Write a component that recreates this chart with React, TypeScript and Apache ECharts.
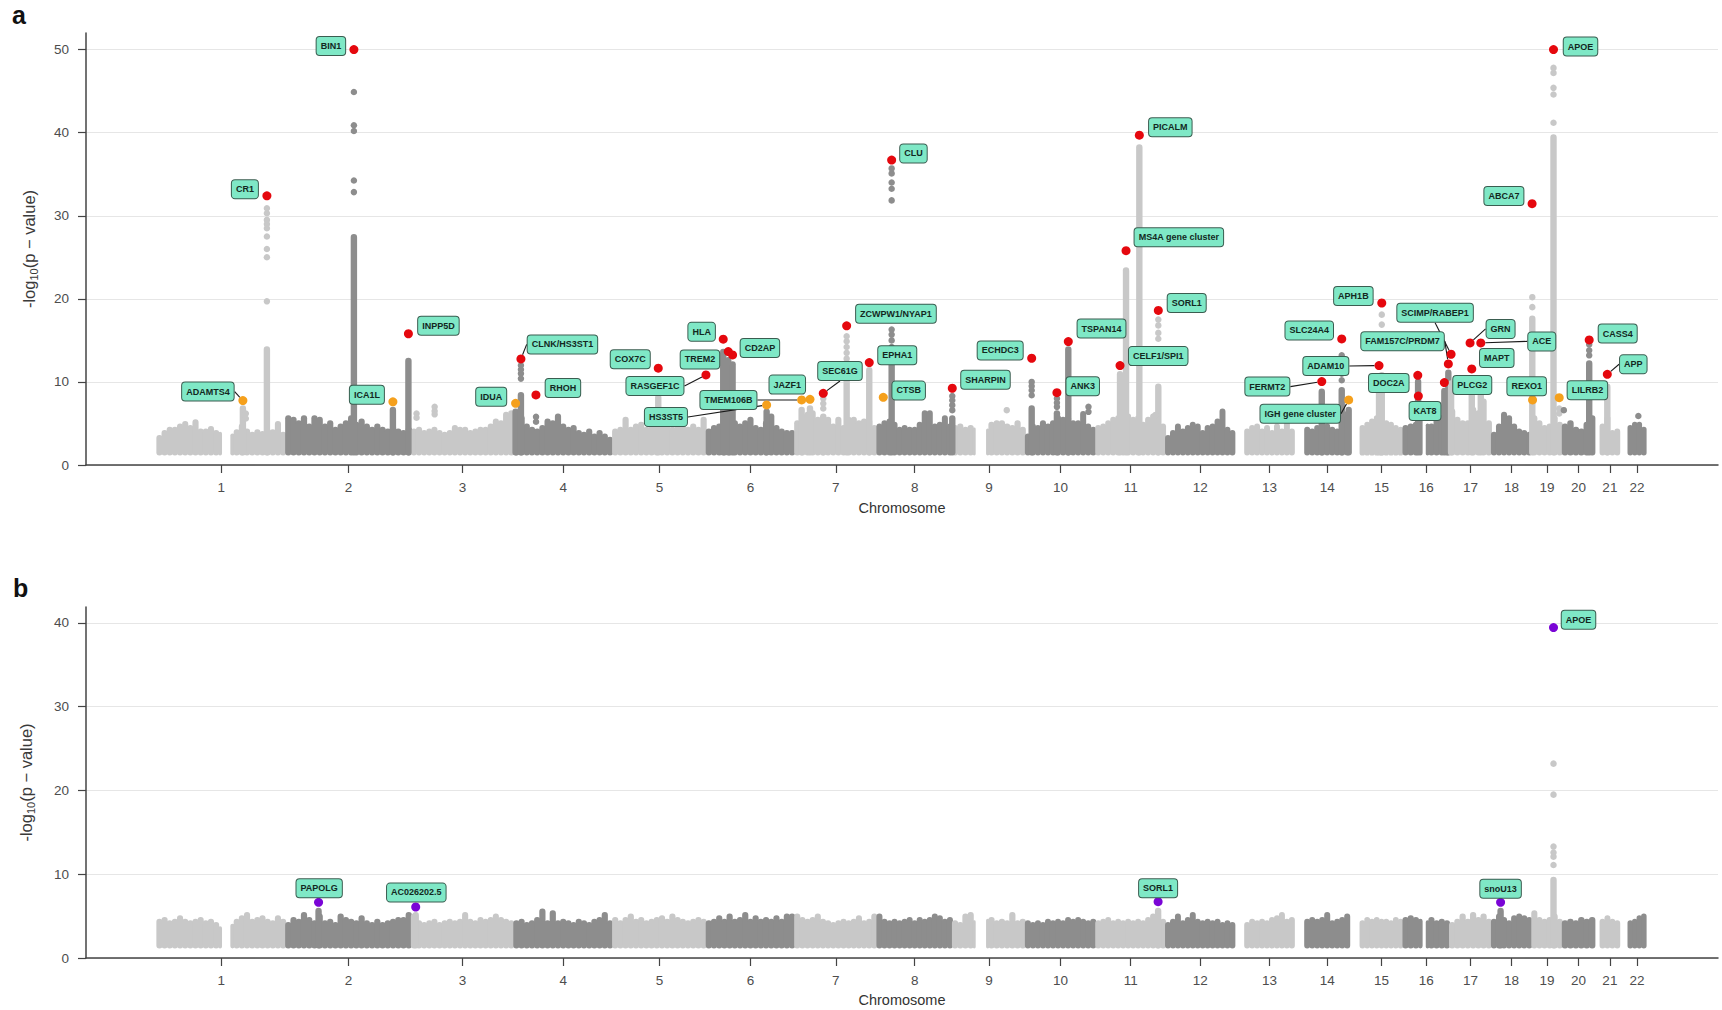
import React, { useEffect, useRef } from "react";
import * as echarts from "echarts";

// ---------------- data ----------------
const TICK_LABELS = ["1","2","3","4","5","6","7","8","9","10","11","12","13","14","15","16","17","18","19","20","21","22"];
const Y_TICKS_A = [0, 10, 20, 30, 40, 50];
const Y_TICKS_B = [0, 10, 20, 30, 40];
// chromosome lengths (Mb), first plotted position, and unplotted gaps
const CHR_LEN = [249,243,198,191,181,171,159,146,141,136,135,134,115,107,103,90,81,78,59,63,48,51];
const CHR_DATA_START = [0,0,0,0,0,0,0,0,0,0,0,0,19,20,20,0,0,0,0,0,10,16];
const CHR_GAPS: [number, number, number][] = [[1,125,143],[9,44,66],[16,37,45]];

// upper envelope of the dense background cloud, evenly spaced along each chromosome (panel a)
const PROFILE_A: number[][] = [
  [3.6,4.2,4.6,4.6,5.0,5.3,4.8,5.5,4.4,4.4,4.7,4.2,4.0,4.0,3.8,4.3,5.0,4.4,4.0,4.3,4.1,4.4,4.3,5.3,4.0],
  [6.0,5.8,5.4,6.0,5.0,6.0,5.8,5.0,5.4,4.6,5.0,5.4,6.0,5.2,5.6,5.0,4.6,5.0,4.6,4.4,4.8,4.4,4.2,4.6],
  [4.4,4.6,4.2,4.4,4.6,4.2,4.0,4.2,4.8,4.6,4.6,4.2,4.4,4.6,4.6,5.0,5.6,5.4,6.4,6.6],
  [5.5,6.0,5.0,4.6,4.4,4.8,5.6,5.4,6.2,5.0,4.6,4.8,4.2,4.0,4.4,3.8,4.2,3.8,3.4],
  [4.4,4.6,5.8,4.6,5.0,5.2,4.6,5.4,5.0,4.8,4.8,4.6,4.8,4.8,4.6,5.0,4.6,5.8],
  [4.4,4.8,5.0,6.0,6.0,5.4,5.0,5.4,5.8,4.8,4.6,5.4,6.2,4.8,4.4,4.2,4.2],
  [5.4,6.2,6.4,6.6,5.8,6.0,5.8,5.0,5.8,4.8,5.8,5.8,5.4,5.6,5.6,4.8],
  [5.0,5.4,5.6,5.2,4.6,4.8,4.6,4.6,5.2,6.6,6.6,5.0,5.2,6.0,5.0],
  [4.8,5.0,4.6,4.8,4.5,4.5,4.4,5.2,5.4,5.4,5.0,4.8,5.4,4.6],
  [3.8,5.0,4.8,5.4,5.0,5.4,6.0,5.8,6.0,5.4,5.4,6.5,5.0,4.6],
  [4.8,5.0,5.4,5.8,6.0,6.0,6.2,5.8,6.0,5.2,5.8,6.2,5.4,5.0],
  [3.6,4.2,5.0,4.4,4.8,5.2,5.0,4.2,4.8,5.0,5.6,6.8,4.6,4.2],
  [4.4,4.8,5.0,4.4,4.8,4.2,5.0,4.4,5.4,4.4],
  [4.6,4.4,4.8,5.6,5.0,4.6,4.4,6.0,6.5],
  [4.8,5.2,5.6,6.0,6.6,5.4,5.2,4.8,4.6],
  [4.8,5.0,5.2,5.6,5.0,5.0,5.8,6.0,6.4],
  [6.8,5.8,5.4,5.4,7.0,6.6,8.0,5.4],
  [4.0,5.0,6.4,6.0,5.0,4.4,4.2,4.0],
  [6.0,5.4,4.8,5.0,6.0,5.2],
  [5.0,5.4,4.6,4.4,5.2,6.0],
  [5.0,6.0,4.2,4.4],
  [4.8,5.2,5.2,4.6],
];

// panel b background envelope
const PROFILE_B: number[][] = [
  [4.7,4.9,4.5,4.7,5.1,4.7,4.5,4.7,4.9,4.5,4.7,4.3,3.8,4.0,4.1,4.7,5.1,5.5,4.7,4.9,5.1,4.7,4.5,5.1,4.7],
  [4.3,4.9,4.7,5.5,4.9,4.5,5.3,4.5,4.7,4.3,5.3,4.9,4.7,4.5,5.1,4.5,4.3,4.7,4.3,4.5,4.7,4.9,4.9,5.5],
  [5.3,4.5,4.3,4.5,4.7,4.3,4.5,4.7,4.5,4.7,5.5,4.7,4.5,4.9,4.7,4.9,5.3,4.9,4.7,4.5],
  [4.5,4.7,4.3,4.5,4.9,5.9,4.5,5.7,4.5,4.7,4.5,4.3,4.7,4.5,4.3,4.7,4.9,5.5,4.5],
  [4.9,4.5,4.9,5.3,4.7,4.9,4.5,4.7,4.9,5.1,4.7,5.3,4.9,4.7,4.5,4.7,4.9,4.7],
  [4.5,4.7,5.1,4.7,5.3,4.7,4.9,5.5,4.7,5.1,4.7,4.9,4.7,5.1,4.7,5.3,5.3],
  [5.3,4.9,4.7,4.9,5.3,4.7,4.5,4.3,4.5,4.7,4.5,4.7,5.1,4.5,4.7,5.3],
  [5.3,4.7,4.5,4.7,4.5,4.7,4.9,4.5,4.9,4.7,4.9,5.3,5.1,4.7,4.9],
  [4.5,4.3,5.3,5.5,4.5,4.5,4.7,4.9,4.5,4.7,4.5,5.5,4.5,4.7],
  [4.5,4.3,4.5,4.3,4.7,4.5,4.7,4.5,4.9,4.7,4.9,4.7,4.5,4.7],
  [4.5,4.7,4.9,4.5,4.7,4.5,4.7,4.5,4.7,4.5,4.9,5.3,5.5,4.7],
  [4.3,4.7,5.3,4.5,4.9,5.5,4.7,4.5,4.7,4.5,4.7,4.3,4.5,4.3],
  [4.3,4.7,4.5,4.7,4.5,4.9,5.1,5.5,4.7,4.9],
  [4.7,4.9,4.7,4.9,5.5,4.5,4.7,4.9,5.3],
  [4.5,4.9,4.7,4.9,4.7,4.7,4.5,4.9,4.7],
  [4.9,5.1,4.9,4.7,4.5,4.9,4.5,4.7,4.5],
  [4.3,4.7,5.3,4.7,5.5,4.9,5.3,4.7],
  [4.7,5.3,4.9,4.5,5.1,5.3,5.1,4.9],
  [5.7,4.9,4.7,4.9,5.3,4.7],
  [4.5,4.7,4.5,4.9,4.7,4.9],
  [4.7,5.1,4.7,4.5],
  [4.5,4.7,5.1,5.3],
];

// dense stacks of SNPs under the signals: [chromosome, position Mb, top -log10 p]
const COLUMNS_A: [number, number, number][] = [
  [1,166.3,7.2],[1,212.7,14.3],[2,131.9,27.8],[2,207.3,7.0],[2,237.3,12.9],[4,3.5,6.8],[4,13.8,8.8],
  [5,88.3,8.5],[6,32.9,14.0],[6,42.6,13.0],[6,51.0,12.5],[6,116.8,6.8],[7,13.5,7.0],[7,29.6,7.2],
  [7,55.3,6.2],[7,100.5,11.3],[7,144.2,11.8],[8,28.5,13.4],[8,145.7,6.0],[10,12.2,7.2],[10,61.0,6.6],
  [10,83.0,14.3],[11,47.0,11.3],[11,58.6,23.8],[11,84.3,38.6],[11,121.0,9.8],[14,53.0,9.2],[14,91.6,9.4],
  [14,105.0,7.0],[15,56.7,9.5],[15,62.0,11.2],[16,29.2,10.4],[16,80.0,9.3],[16,87.7,11.5],[17,3.0,10.2],
  [17,43.0,10.8],[17,60.4,9.0],[19,1.0,18.0],[19,42.0,39.8],[20,52.0,12.6],[21,24.0,9.8],
];
// isolated SNPs above the cloud: [chromosome, position Mb, -log10 p]
const DOTS_A: [number, number, number][] = [
  [1,212.7,19.7],[1,212.7,25.0],[1,212.7,26.0],[1,212.7,27.5],[1,212.7,28.5],[1,212.7,29.0],[1,212.7,29.5],[1,212.7,30.3],[1,212.7,30.9],
  [2,131.9,32.85],[2,131.9,34.25],[2,131.9,40.2],[2,131.9,40.9],[2,131.9,44.9],
  [4,13.8,10.4],[4,13.8,11.0],[4,13.8,11.5],[4,13.8,12.0],
  [7,100.5,12.8],[7,100.5,13.5],[7,100.5,14.2],[7,100.5,14.9],[7,100.5,15.5],
  [7,55.3,6.8],[7,55.3,7.4],[7,55.3,8.0],
  [8,28.5,14.2],[8,28.5,15.0],[8,28.5,15.7],[8,28.5,16.3],
  [8,28.5,31.85],[8,28.5,33.25],[8,28.5,34.0],[8,28.5,35.1],[8,28.5,35.7],
  [8,145.7,6.6],[8,145.7,7.2],[8,145.7,7.8],[8,145.7,8.3],
  [10,12.2,8.4],[10,12.2,9.0],[10,12.2,9.5],[10,12.2,10.0],
  [10,61.0,7.0],[10,61.0,7.5],[10,61.0,8.0],
  [11,121.0,15.2],[11,121.0,15.9],[11,121.0,16.8],[11,121.0,17.5],
  [14,91.6,10.2],[14,91.6,11.0],[14,91.6,11.8],[14,91.6,12.6],[14,91.6,13.2],
  [15,62.0,16.9],[15,62.0,18.1],
  [19,1.0,19.0],[19,1.0,20.2],
  [19,42.0,41.2],[19,42.0,44.6],[19,42.0,45.4],[19,42.0,47.2],[19,42.0,47.8],
  [19,53.0,6.2],[19,53.0,6.8],
  [20,52.0,13.2],[20,52.0,13.8],[20,52.0,14.5],
  [1,172,6.2],[1,172,5.6],[3,10,6.2],[3,10,5.7],[3,45,7.0],[3,45,6.5],[3,45,6.1],[4,43,5.8],[4,43,5.2],
  [9,105,6.6],[10,122,7.0],[10,122,6.4],[11,115,6.0],[20,3,6.6],[22,36,5.9],
];
// lead variants panel a: [gene, chromosome, position Mb, -log10 p, class]
const LEADS_A: [string, number, number, number, string][] = [
  ["CR1",1,212.7,32.4,"r"],["ADAMTS4",1,166.3,7.75,"o"],["BIN1",2,131.9,50.0,"r"],["ICA1L",2,207.3,7.6,"o"],
  ["INPP5D",2,237.3,15.8,"r"],["IDUA",4,3.5,7.43,"o"],["CLNK/HS3ST1",4,13.8,12.77,"r"],["RHOH",4,42.8,8.43,"r"],
  ["COX7C",5,88.3,11.65,"r"],["RASGEF1C",5,180.5,10.84,"r"],["HLA",6,32.9,15.14,"r"],["TREM2",6,42.6,13.65,"r"],
  ["CD2AP",6,51.0,13.25,"r"],["HS3ST5",6,116.8,7.23,"o"],["TMEM106B",7,13.5,7.83,"o"],["JAZF1",7,29.6,7.9,"o"],
  ["SEC61G",7,55.3,8.63,"r"],["ZCWPW1/NYAP1",7,100.5,16.75,"r"],["EPHA1",7,144.2,12.33,"r"],["CTSB",8,12.3,8.15,"o"],
  ["CLU",8,28.5,36.7,"r"],["SHARPIN",8,145.7,9.24,"r"],["ECHDC3",10,12.2,12.85,"r"],["ANK3",10,61.0,8.7,"r"],
  ["TSPAN14",10,83.0,14.86,"r"],["CELF1/SPI1",11,47.0,11.97,"r"],["MS4A gene cluster",11,58.6,25.8,"r"],["PICALM",11,84.3,39.7,"r"],
  ["SORL1",11,121.0,18.6,"r"],["FERMT2",14,53.0,10.04,"r"],["SLC24A4",14,91.6,15.18,"r"],["IGH gene cluster",14,105.0,7.83,"o"],
  ["ADAM10",15,56.7,11.97,"r"],["APH1B",15,62.0,19.5,"r"],["DOC2A",16,28.6,10.8,"r"],["KAT8",16,29.7,8.3,"r"],
  ["PLCG2",16,80.0,9.92,"r"],["FAM157C/PRDM7",16,87.7,12.17,"r"],["SCIMP/RABEP1",17,3.0,13.33,"r"],["GRN",17,39.7,14.7,"r"],
  ["MAPT",17,43.0,11.57,"r"],["ACE",17,60.4,14.7,"r"],["ABCA7",19,0.6,31.45,"r"],["REXO1",19,1.5,7.83,"o"],
  ["APOE",19,42.0,50.0,"r"],["LILRB2",19,53.0,8.1,"o"],["CASS4",20,52.0,15.06,"r"],["APP",21,24.0,10.92,"r"],
];

const COLUMNS_B: [number, number, number][] = [
  [2,63.6,6.0],[3,8.4,5.5],[11,120.6,6.0],[18,17.7,6.0],[19,42.0,9.7],
];
const DOTS_B: [number, number, number][] = [
  [19,42.0,11.1],[19,42.0,12.1],[19,42.0,12.6],[19,42.0,13.3],[19,42.0,19.5],[19,42.0,23.2],
];
const LEADS_B: [string, number, number, number][] = [
  ["PAPOLG",2,63.6,6.65],["AC026202.5",3,8.4,6.09],["SORL1",11,120.6,6.72],["snoU13",18,17.7,6.65],["APOE",19,42.0,39.44],
];

// ---------------- layout / style ----------------
const LABEL_OFFSET_A: [number, number][] = [
  [-22,-6.7],[-35,-9],[-23,-3.5],[-26,-7],[30,-8],[-24.4,-6.6],[41.5,-14.5],[27,-7],
  [-28,-9],[-51,11],[-21.6,-7.5],[-28.3,7.8],[27.3,-7],[-100.7,12],[-73.2,0],[-22.7,-14.8],
  [16.7,-22.3],[49.3,-12.2],[28,-7.2],[25.4,-6.8],[21.8,-6.7],[33.2,-8.6],[-31.5,-7.8],[25.8,-6.4],
  [33.2,-13],[38.2,-9.5],[52.8,-13.5],[31,-7.9],[28.4,-7.4],[-54.4,5],[-32.5,-8.5],[-48.4,13.8],
  [-53.2,0.5],[-28.4,-7],[-29,7.6],[6.7,15],[27.9,2.3],[-45.8,-22.7],[-16,-41.5],[30.5,-14],
  [25,-11],[61,-1.5],[-28.2,-7.8],[-5.9,-13.8],[27,-3],[28.2,-7.4],[28.5,-6.3],[26,-10],
];
const LABEL_OFFSET_B: [number, number][] = [[0.6,-14],[0.6,-14.5],[0,-13.5],[0,-13.6],[25,-7.8]];
const LINE_LABELS = new Set([
  "ADAMTS4","CLNK/HS3ST1","RASGEF1C","HS3ST5","TMEM106B","SEC61G","FERMT2","IGH gene cluster",
  "ADAM10","FAM157C/PRDM7","SCIMP/RABEP1","GRN","ACE","APP",
]);

const FONT = '"Liberation Sans", Arial, Helvetica, sans-serif';
const LIGHT = "#c8c8c8";
const DARK = "#8d8d8d";
const RED = "#e5080e";
const ORANGE = "#f5a01c";
const PURPLE = "#7a05d6";
const LABEL_BG = "#7fe8c6";
const BASE = 1.5;
const X_MIN = -137;
const X_MAX = 3018;

const CHR_OFFSET: number[] = (() => {
  const out: number[] = [];
  let acc = 0;
  for (const l of CHR_LEN) { out.push(acc); acc += l; }
  return out;
})();
const cum = (chr: number, pos: number) => CHR_OFFSET[chr - 1] + pos;
const TICKS = CHR_LEN.map((l, i) => CHR_OFFSET[i] + (CHR_DATA_START[i] + l) / 2);
const tickLabel = (v: number) => {
  let best = 0;
  TICKS.forEach((t, i) => { if (Math.abs(t - v) < Math.abs(TICKS[best] - v)) best = i; });
  return TICK_LABELS[best];
};
const shade = (chr: number) => (chr % 2 === 0 ? 1 : 0);

function buildBand(profiles: number[][]) {
  const out: number[][] = [];
  profiles.forEach((prof, i) => {
    const chr = i + 1;
    const s = CHR_DATA_START[i];
    const L = CHR_LEN[i];
    const w = (L - s) / prof.length;
    prof.forEach((h, j) => {
      let a = s + j * w;
      let b = a + w;
      let skip = false;
      for (const [gc, g0, g1] of CHR_GAPS) {
        if (gc !== chr || b <= g0 || a >= g1) continue;
        if (a >= g0 && b <= g1) { skip = true; break; }
        if (a < g0) b = g0; else a = g1;
      }
      if (skip) return;
      out.push([CHR_OFFSET[i] + a, CHR_OFFSET[i] + b, h, shade(chr)]);
    });
  });
  return out;
}

const bandItem = (_p: any, api: any) => {
  const p0 = api.coord([api.value(0), api.value(2)]);
  const p1 = api.coord([api.value(1), BASE]);
  return {
    type: "rect",
    shape: { x: p0[0] - 0.5, y: p0[1], width: p1[0] - p0[0] + 1, height: p1[1] + 3 - p0[1], r: 3 },
    style: { fill: api.value(3) ? DARK : LIGHT },
  };
};
const columnItem = (_p: any, api: any) => {
  const p0 = api.coord([api.value(0), api.value(1)]);
  const p1 = api.coord([api.value(0), BASE]);
  return {
    type: "rect",
    shape: { x: p0[0] - 3.2, y: p0[1], width: 6.4, height: p1[1] + 3 - p0[1], r: 3.2 },
    style: { fill: api.value(2) ? DARK : LIGHT },
  };
};

const labelStyle = {
  show: true,
  formatter: "{b}",
  position: "right",
  fontFamily: FONT,
  fontSize: 9,
  fontWeight: "bold",
  color: "#13281f",
  backgroundColor: LABEL_BG,
  borderColor: "#3a5d50",
  borderWidth: 1,
  borderRadius: 3,
  padding: [4, 4, 3, 4],
  lineHeight: 11,
};

function panelSeries(g: number, profiles: number[][], cols: [number, number, number][], dots: [number, number, number][],
  leads: { name: string; x: number; y: number; color: string }[], offsets: [number, number][]) {
  return [
    {
      type: "custom", xAxisIndex: g, yAxisIndex: g, z: 1, silent: true, clip: true,
      renderItem: bandItem, data: buildBand(profiles),
    },
    {
      type: "custom", xAxisIndex: g, yAxisIndex: g, z: 2, silent: true, clip: true,
      renderItem: columnItem, data: cols.map((c) => [cum(c[0], c[1]), c[2], shade(c[0])]),
    },
    {
      type: "scatter", xAxisIndex: g, yAxisIndex: g, z: 3, silent: true, symbolSize: 6.5,
      data: dots.map((d) => [cum(d[0], d[1]), d[2], shade(d[0])]),
      itemStyle: { color: (p: any) => (p.data[2] ? DARK : LIGHT), opacity: 1 },
    },
    {
      type: "scatter", xAxisIndex: g, yAxisIndex: g, z: 10, silent: true, symbolSize: 9,
      data: leads.map((l) => ({
        name: l.name,
        value: [l.x, l.y],
        itemStyle: { color: l.color, opacity: 1 },
        labelLine: { show: g === 0 && LINE_LABELS.has(l.name) },
      })),
      label: labelStyle,
      labelLine: { show: true, lineStyle: { color: "#1a1a1a", width: 1.1 } },
      labelLayout: (p: any) => {
        const off = offsets[p.dataIndex] || [0, 0];
        const cx = p.rect.x + p.rect.width / 2;
        const cy = p.rect.y + p.rect.height / 2;
        return { x: cx + off[0], y: cy + off[1], align: "center", verticalAlign: "middle", hideOverlap: false };
      },
    },
  ];
}

function makeXAxis(g: number, gap: number) {
  return {
    type: "value", gridIndex: g, min: X_MIN, max: X_MAX,
    name: "Chromosome", nameLocation: "middle", nameGap: gap,
    nameTextStyle: { fontSize: 14.5, color: "#333", fontFamily: FONT },
    axisLine: { show: true, onZero: false, lineStyle: { color: "#444", width: 1.5 } },
    axisTick: { show: true, customValues: TICKS, length: 8, lineStyle: { color: "#444", width: 1.2 } },
    axisLabel: { customValues: TICKS, formatter: (v: number) => tickLabel(v), fontSize: 13.5, color: "#4d4d4d", margin: 15, fontFamily: FONT },
    splitLine: { show: false },
  };
}
function makeYAxis(g: number, max: number, gap: number, ticks: number[]) {
  return {
    type: "value", gridIndex: g, min: 0, max, interval: 10,
    name: "-log{s|10}(p − value)", nameLocation: "middle", nameGap: gap, nameRotate: 90,
    nameMoveOverlap: false,
    nameTextStyle: {
      fontSize: 16.5, color: "#3a3a3a", fontFamily: FONT, lineHeight: 21,
      rich: { s: { fontSize: 11, lineHeight: 11, verticalAlign: "bottom", color: "#3a3a3a", fontFamily: FONT } },
    },
    axisLine: { show: true, onZero: false, lineStyle: { color: "#444", width: 1.5 } },
    axisTick: { show: true, customValues: ticks, length: 8, lineStyle: { color: "#444", width: 1.2 } },
    axisLabel: { customValues: ticks, fontSize: 13.5, color: "#4d4d4d", margin: 17, fontFamily: FONT },
    splitLine: { show: true, lineStyle: { color: "#e6e6e6", width: 1.2 } },
  };
}

function buildOption() {
  const leadsA = LEADS_A.map((l) => ({ name: l[0], x: cum(l[1], l[2]), y: l[3], color: l[4] === "o" ? ORANGE : RED }));
  const leadsB = LEADS_B.map((l) => ({ name: l[0], x: cum(l[1], l[2]), y: l[3], color: PURPLE }));
  return {
    animation: false,
    backgroundColor: "#ffffff",
    textStyle: { fontFamily: FONT },
    grid: [
      { left: 86, right: 4, top: 33, height: 432 },
      { left: 86, right: 4, top: 607, height: 351 },
    ],
    xAxis: [makeXAxis(0, 35), makeXAxis(1, 34)],
    yAxis: [makeYAxis(0, 52, 47, Y_TICKS_A), makeYAxis(1, 41.9, 50, Y_TICKS_B)],
    series: [
      ...panelSeries(0, PROFILE_A, COLUMNS_A, DOTS_A, leadsA, LABEL_OFFSET_A),
      ...panelSeries(1, PROFILE_B, COLUMNS_B, DOTS_B, leadsB, LABEL_OFFSET_B),
    ],
    graphic: [
      { type: "text", x: 12, y: 14.5, style: { text: "a", fontFamily: FONT, fontSize: 25, fontWeight: "bold", fill: "#111", verticalAlign: "middle" } },
      { type: "text", x: 13, y: 588, style: { text: "b", fontFamily: FONT, fontSize: 25, fontWeight: "bold", fill: "#111", verticalAlign: "middle" } },
    ],
  };
}

export default function App() {
  const ref = useRef<HTMLDivElement>(null);
  useEffect(() => {
    if (!ref.current) return;
    const chart = echarts.init(ref.current, undefined, { renderer: "svg" });
    chart.setOption(buildOption() as any);
    return () => chart.dispose();
  }, []);
  return (
    <div
      ref={ref}
      style={{ position: "fixed", left: 0, top: 0, width: "1722px", height: "1010px", background: "#fff" }}
    />
  );
}
